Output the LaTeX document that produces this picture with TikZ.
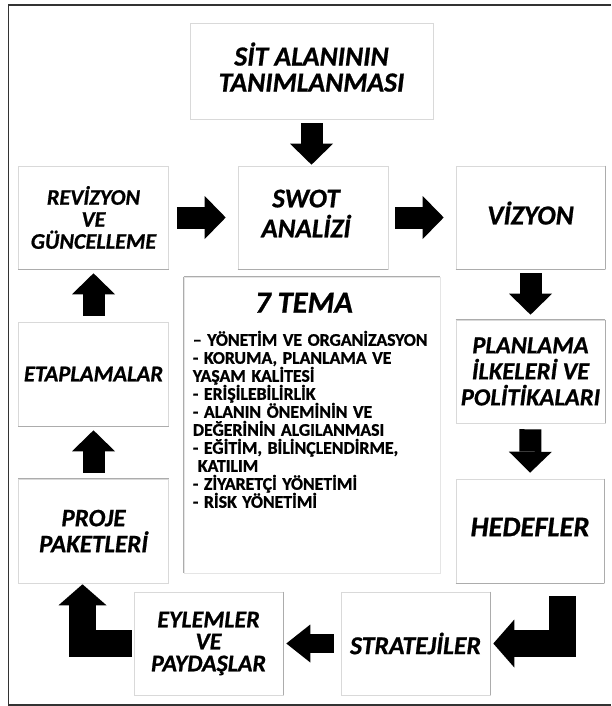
\documentclass[tikz,border=0pt]{standalone}
\usepackage{fontspec}
\usetikzlibrary{arrows.meta}
\newfontfamily\boxfont{Carlito}[FakeBold=0.8]
\newfontfamily\listfont{Carlito}[WordSpace=1.4, FakeBold=1.1]

\tikzset{
  box/.style={draw=gray!30, line width=0.6pt, inner sep=0pt, align=center},
  lbl/.style 2 args={font=\boxfont\bfseries\itshape\fontsize{#1}{#2}\selectfont},
  sideline/.style={draw=gray!65, line width=0.8pt},
  frame/.style={draw=black!80, line width=1.3pt},
  flow/.style={line width=22pt, -{Triangle[width=43pt,length=21pt,line width=0pt]}},
  hookarrow/.style={line width=27pt, line join=miter, -{Triangle[width=48pt,length=21pt,line width=0pt]}},
}

\begin{document}
\begin{tikzpicture}[x=1pt,y=-1pt]
\useasboundingbox (0,0) rectangle (611,706);
\draw[frame] (611,5) -| (8.5,705) -- (611,705);

\node[box, lbl={27.6}{26}, minimum width=243pt, minimum height=96pt] (sit) at (311.5,71) {SİT ALANININ\\TANIMLANMASI\\[-18pt]};
\node[box, lbl={22.2}{22}, minimum width=150pt, minimum height=103pt] (revizyon) at (93.5,217.5) {REVİZYON\\VE\\GÜNCELLEME};
\node[box, lbl={27}{30}, minimum width=150pt, minimum height=103pt] (swot) at (313,217.5) {\hspace*{-14pt}SWOT\\\hspace*{-14pt}ANALİZİ\\[-22pt]};
\node[box, lbl={27.5}{26}, minimum width=149pt, minimum height=103pt] (vizyon) at (530.5,217.5) {VİZYON\\[-17pt]};
\node[box, draw=gray!20, minimum width=256pt, minimum height=296pt] (tema) at (312,425) {};
\node[box, lbl={22.6}{22}, minimum width=150pt, minimum height=104pt] (etaplamalar) at (93.5,374) {ETAPLAMALAR};
\node[box, lbl={24.6}{26}, minimum width=149pt, minimum height=103pt] (planlama) at (530.5,371.5) {PLANLAMA\\İLKELERİ VE\\POLİTİKALARI};
\node[box, lbl={25}{26}, minimum width=150pt, minimum height=104pt] (proje) at (93.5,531) {PROJE\\PAKETLERİ};
\node[box, lbl={28.5}{26}, minimum width=148pt, minimum height=104pt] (hedefler) at (530,531) {HEDEFLER\\[-18pt]};
\node[box, lbl={24}{22}, minimum width=149pt, minimum height=103pt] (eylemler) at (208.5,643.5) {EYLEMLER\\VE\\PAYDAŞLAR};
\node[box, lbl={25.7}{26}, minimum width=149pt, minimum height=103pt] (stratejiler) at (415.5,643.5) {STRATEJİLER};

% 7 tema
\node[lbl={30.6}{28}, anchor=base, inner sep=0pt] (tematitle) at ([xshift=-8pt,yshift=-36pt]tema.north) {7 TEMA};
\node[font=\listfont\bfseries\fontsize{17.75}{18}\selectfont, anchor=north west, align=left, inner sep=0pt] (temalist) at ([xshift=9pt,yshift=-54pt]tema.north west)
  {– YÖNETİM VE ORGANİZASYON\\- KORUMA, PLANLAMA VE\\YAŞAM KALİTESİ\\- ERİŞİLEBİLİRLİK\\- ALANIN ÖNEMİNİN VE\\DEĞERİNİN ALGILANMASI\\- EĞİTİM, BİLİNÇLENDİRME,\\\hspace*{5pt}KATILIM\\- ZİYARETÇİ YÖNETİMİ\\- RİSK YÖNETİMİ};

% darker box sides
\foreach \n/\a/\b in {revizyon/south west/south east, swot/south west/south east,
    vizyon/north east/south east, vizyon/south west/south east,
    tema/north west/north east, tema/north west/south west,
    etaplamalar/south west/south east, proje/north west/north east,
    planlama/north west/north east, planlama/north east/south east,
    hedefler/north east/south east, hedefler/south west/south east,
    eylemler/north east/south east, stratejiler/north east/south east}
  \draw[sideline] (\n.\a) -- (\n.\b);

% block arrows
\draw[flow, shorten <=4pt, shorten >=1pt] (sit.south) -- (sit.south |- swot.north);
\draw[flow, shorten <=8pt, shorten >=12pt] (revizyon.east) -- (swot.west);
\draw[flow, shorten <=7pt, shorten >=12pt] (swot.east) -- (vizyon.west);
\draw[flow, shorten <=4pt, shorten >=5pt] (vizyon.south) -- (planlama.north);
\draw[flow, shorten <=6pt, shorten >=6pt] (planlama.south) -- (hedefler.north);
\draw[hookarrow, shorten >=3pt] ([shift={(32pt,-13pt)}]hedefler.south) |- (stratejiler.east);
\draw[flow, line width=19pt, -{Triangle[width=38pt,length=24pt,line width=0pt]}, shorten <=7pt, shorten >=3pt] (stratejiler.west) -- (eylemler.east);
\draw[hookarrow, shorten <=2pt, shorten >=1pt] (eylemler.west) -| ([xshift=-11pt]proje.south);
\draw[flow, shorten <=6pt, shorten >=4pt] (proje.north) -- (etaplamalar.south);
\draw[flow, shorten <=6pt, shorten >=4pt] (etaplamalar.north) -- (revizyon.south);
\end{tikzpicture}
\end{document}
